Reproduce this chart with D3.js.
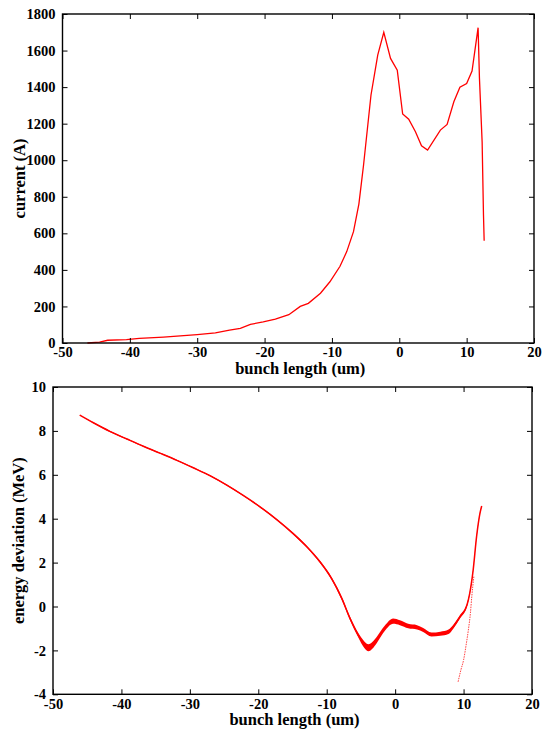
<!DOCTYPE html>
<html>
<head>
<meta charset="utf-8">
<script src="https://cdn.jsdelivr.net/npm/d3@7"></script>
<style>
  body { margin: 0; background: #fff; }
  text { font-family: "Liberation Serif", "Times New Roman", serif; font-weight: bold; fill: #000; }
</style>
</head>
<body>
<script>
// current profile (top panel)
var currentX = [-46.3, -44.5, -43.3, -40.5, -38.6, -35, -32, -30, -27.3, -25.2, -23.6, -22.1, -20.2, -18.4,
    -16.4, -14.7, -13.5, -11.7, -10.3, -8.8, -7.8, -6.8, -6.0, -5.3, -4.2, -3.2, -2.3, -1.3, -0.3, 0.5,
    1.4, 2.4, 3.3, 4.2, 6.1, 7.1, 8.1, 9.0, 10.0, 10.8, 11.7, 11.9, 12.3, 12.5, 12.6];
var currentA = [0, 5, 15, 18, 25, 32, 40, 46, 55, 70, 80, 102, 115, 130,
    155, 200, 217, 272, 335, 420, 500, 609, 760, 975, 1357, 1575, 1700, 1557, 1493, 1253,
    1224, 1156, 1079, 1056, 1165, 1196, 1320, 1399, 1420, 1488, 1725, 1450, 1100, 700, 560];

// longitudinal phase space (bottom panel): centre of the band and its half spread
var energyX = [-46.1, -44.1, -41.7, -39.2, -36.8, -34.4, -31.9, -29.5, -27.0, -24.6, -22.2, -19.7, -17.3,
    -14.9, -12.9, -11.0, -9.3, -7.8, -6.6, -5.4, -4.5, -3.9, -3.3, -2.7, -1.5, -0.3, 0.7, 1.9, 3.2, 4.1,
    5.3, 6.6, 7.8, 8.5, 9.5, 10.5, 10.9, 11.4, 11.9, 12.4, 12.65];
var energyDev = [8.72, 8.37, 7.98, 7.63, 7.30, 6.99, 6.66, 6.32, 5.95, 5.53, 5.06, 4.53, 3.96,
    3.32, 2.72, 2.04, 1.28, 0.37, -0.54, -1.30, -1.74, -1.88, -1.76, -1.53, -0.99, -0.67, -0.74, -0.89, -0.95, -1.07,
    -1.28, -1.24, -1.15, -0.92, -0.46, 0.07, 0.60, 1.66, 3.18, 4.25, 4.58];
var energySpread = [0.01, 0.02, 0.025, 0.025, 0.025, 0.025, 0.025, 0.025, 0.025, 0.025, 0.025, 0.03, 0.03,
    0.035, 0.04, 0.05, 0.06, 0.07, 0.08, 0.10, 0.15, 0.16, 0.15, 0.14, 0.12, 0.12, 0.11, 0.10, 0.10, 0.09,
    0.09, 0.09, 0.10, 0.09, 0.08, 0.07, 0.05, 0.04, 0.04, 0.04, 0.02];
// thin tail of particles below the head
var tailX = [9.2, 9.6, 10.0, 10.4, 10.7, 11.0, 11.2, 11.5];
var tailDev = [-3.43, -2.9, -2.44, -1.7, -1.07, -0.3, 0.45, 1.36];

var xTicks = [-50, -40, -30, -20, -10, 0, 10, 20];
var currentTicks = [0, 200, 400, 600, 800, 1000, 1200, 1400, 1600, 1800];
var energyTicks = [-4, -2, 0, 2, 4, 6, 8, 10];

var svg = d3.select("body").append("svg").attr("width", 544).attr("height", 730);
var fmt = d => String(d);

function panel(box, yTicks, yTitle, yTitleX) {
    var w = box.right - box.left, h = box.bottom - box.top;
    var g = svg.append("g").attr("transform", "translate(" + [box.left, box.top] + ")");
    var x = d3.scaleLinear().domain([-50, 20]).range([0, w]);
    var y = d3.scaleLinear().domain(d3.extent(yTicks)).range([h, 0]);

    var plot = g.append("g");

    g.append("g").attr("transform", "translate(0," + h + ")")
        .call(d3.axisBottom(x).tickValues(xTicks).tickFormat(fmt).tickSize(-5).tickSizeOuter(0).tickPadding(4));
    g.append("g")
        .call(d3.axisTop(x).tickValues(xTicks).tickSize(-5).tickSizeOuter(0).tickFormat(""));
    g.append("g")
        .call(d3.axisLeft(y).tickValues(yTicks).tickFormat(fmt).tickSize(-5).tickSizeOuter(0).tickPadding(7));
    g.append("g").attr("transform", "translate(" + w + ",0)")
        .call(d3.axisRight(y).tickValues(yTicks).tickSize(-5).tickSizeOuter(0).tickFormat(""));

    g.selectAll(".domain").remove();
    g.selectAll(".tick line").attr("stroke", "#000").attr("stroke-width", 1);
    g.selectAll(".tick text").style("font-size", "14.5px");

    g.append("rect").attr("width", w).attr("height", h)
        .attr("fill", "none").attr("stroke", "#000").attr("stroke-width", 1.4);

    g.append("text").attr("x", w / 2 + 2).attr("y", h + 31)
        .attr("text-anchor", "middle").style("font-size", "16.5px")
        .text("bunch length (um)");
    g.append("text")
        .attr("transform", "translate(" + [yTitleX - box.left, h / 2] + ")rotate(-90)")
        .attr("text-anchor", "middle").style("font-size", "16.5px")
        .text(yTitle);

    return { plot: plot, x: x, y: y };
}

// top panel
var upper = panel({ left: 62.5, right: 534, top: 14, bottom: 343 }, currentTicks, "current (A)", 25);
upper.plot.append("path")
    .datum(currentX.map((d, i) => [d, currentA[i]]))
    .attr("fill", "none").attr("stroke", "#ff0000").attr("stroke-width", 1.3)
    .attr("d", d3.line().x(d => upper.x(d[0])).y(d => upper.y(d[1])));

// bottom panel
var lower = panel({ left: 53, right: 532, top: 387, bottom: 694.3 }, energyTicks, "energy deviation (MeV)", 24);
var band = energyX.map((d, i) => ({ x: d, e: energyDev[i], s: energySpread[i] }));

lower.plot.append("path")
    .datum(band)
    .attr("fill", "#ff0000").attr("stroke", "none")
    .attr("d", d3.area().curve(d3.curveMonotoneX)
        .x(d => lower.x(d.x)).y0(d => lower.y(d.e - d.s)).y1(d => lower.y(d.e + d.s)));
lower.plot.append("path")
    .datum(band)
    .attr("fill", "none").attr("stroke", "#ff0000").attr("stroke-width", 1.5)
    .attr("d", d3.line().curve(d3.curveMonotoneX).x(d => lower.x(d.x)).y(d => lower.y(d.e)));
lower.plot.append("path")
    .datum(tailX.map((d, i) => [d, tailDev[i]]))
    .attr("fill", "none").attr("stroke", "#ff2020").attr("stroke-width", 1)
    .attr("stroke-dasharray", "1.5,1").attr("opacity", 0.85)
    .attr("d", d3.line().curve(d3.curveMonotoneX).x(d => lower.x(d[0])).y(d => lower.y(d[1])));
</script>
</body>
</html>
